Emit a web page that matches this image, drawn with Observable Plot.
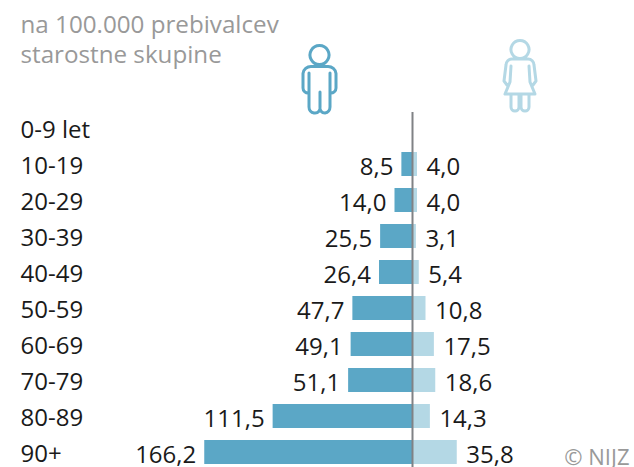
<!DOCTYPE html>
<html><head><meta charset="utf-8">
<style>html,body{margin:0;padding:0;background:#fff}svg{display:block}#c{width:634px;height:467px;overflow:hidden}</style>
<script src="https://cdn.jsdelivr.net/npm/d3@7"></script>
<script src="https://cdn.jsdelivr.net/npm/@observablehq/plot@0.6"></script>
</head><body><div id="c"></div>
<script>
const ageGroups = ["0-9 let","10-19","20-29","30-39","40-49","50-59","60-69","70-79","80-89","90+"];
const male = [null,8.5,14.0,25.5,26.4,47.7,49.1,51.1,111.5,166.2];
const female = [null,4.0,4.0,3.1,5.4,10.8,17.5,18.6,14.3,35.8];
const titleLines = "na 100.000 prebivalcev\nstarostne skupine";
const credit = "© NIJZ";
const maleColor = "#5ba7c6", femaleColor = "#b4d8e5", axisColor = "#808285", greyText = "#999999", darkText = "#1a1a1a";

const rows = ageGroups.map((g,i)=>({g,m:male[i],f:female[i]})).filter(d=>d.m!=null);
const fmt = v => v.toFixed(1).replace(".",",");
const font = "'Open Sans', sans-serif";

function icon(d, color, tx, ty){
  return () => {
    const g = d3.create("svg:g").attr("transform",`translate(${tx},${ty})`);
    g.append("path").attr("d",d).attr("fill","none").attr("stroke",color).attr("stroke-width",3)
      .attr("stroke-linecap","round").attr("stroke-linejoin","round");
    return g.node();
  };
}
const manPath = "M20.5 2.5a9.5 9.5 0 1 1-.01 0Z M12 23.5H29a8 8 0 0 1 8 7V45a5 5 0 0 1-6 5 M12 23.5a8 8 0 0 0-8 7V45a5 5 0 0 0 6 5 M10 30V64a6 6 0 0 0 5 6h1a5 5 0 0 0 5-6V49 M31 30V64a6 6 0 0 1-5 6h0a5 5 0 0 1-5-6";
const womanPath = "M18 1.5a9 9 0 1 1-.01 0Z M10 20H26a6 6 0 0 1 6 6l2 16-3 4 M10 20a6 6 0 0 0-6 6L2 42l3 4 M9 27 8 43 3 55H33L28 43 27 27 M9 55V68a4 4 0 0 0 8 0V55 M19 55V68a4 4 0 0 0 8 0V55";

const chart = Plot.plot({
  width:634, height:467, margin:0,
  x:{domain:[-412/1.25,222/1.25], range:[0,634], axis:null},
  y:{domain:ageGroups, range:[110,470], paddingInner:1/3, paddingOuter:1/6, axis:null},
  style:{fontFamily:font, background:"#fff"},
  marks:[
    Plot.barX(rows,{y:"g",x1:0,x2:d=>-d.m,fill:maleColor}),
    Plot.barX(rows,{y:"g",x1:0,x2:"f",fill:femaleColor}),
    Plot.ruleX([0],{insetTop:112,stroke:axisColor,strokeWidth:2}),
    Plot.axisY({anchor:"left",tickSize:0,tickPadding:0,textAnchor:"start",dx:20,dy:1.5,fontSize:24,label:null,fill:darkText}),
    Plot.text(rows,{y:"g",x:d=>-d.m,text:d=>fmt(d.m),textAnchor:"end",dx:-8.5,dy:3,fontSize:24,fill:darkText}),
    Plot.text(rows,{y:"g",x:"f",text:d=>fmt(d.f),textAnchor:"start",dx:9,dy:3,fontSize:24,fill:darkText}),
    Plot.text([titleLines],{frameAnchor:"top-left",dx:20,dy:12,fontSize:24.2,lineHeight:1.21,fill:greyText}),
    Plot.text([credit],{frameAnchor:"bottom-right",dx:-5,dy:-3,fontSize:22,fill:greyText}),
    icon(manPath,maleColor,299,43),
    icon(womanPath,femaleColor,502,39)
  ]
});
document.getElementById("c").append(chart);
</script></body></html>
